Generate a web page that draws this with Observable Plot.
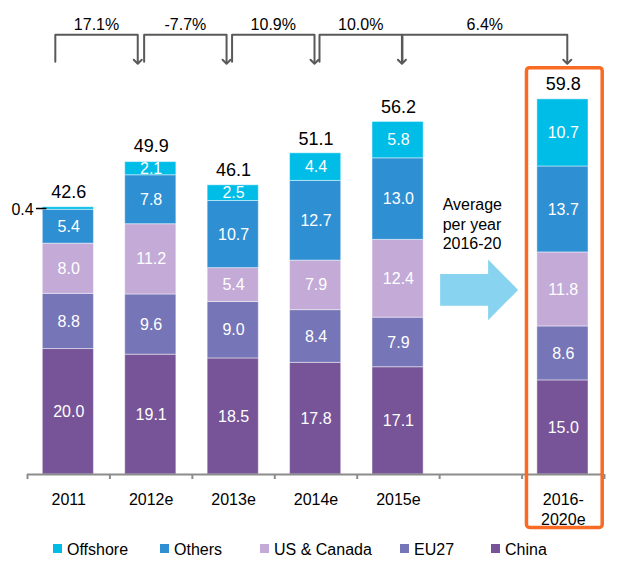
<!DOCTYPE html>
<html>
<head>
<meta charset="utf-8">
<script src="https://cdn.jsdelivr.net/npm/d3@7"></script>
<script src="https://cdn.jsdelivr.net/npm/@observablehq/plot@0.6"></script>
<style>
  body { margin: 0; background: #fff; font-family: "Liberation Sans", Arial, sans-serif; }
  #wrap { position: relative; width: 617px; height: 565px; overflow: hidden; }
  #legend { position: relative; height: 30px; }
  .item { position: absolute; top: 5px; height: 20px; display: flex; align-items: center;
          font-size: 16px; color: #000; white-space: nowrap; }
  .sw { width: 9px; height: 9px; margin-right: 5px; margin-top: -3px; }
</style>
</head>
<body>
<div id="wrap"><div id="chart"></div><div id="legend"></div></div>
<script>
// ---------------- data ----------------
const categories = ["2011", "2012e", "2013e", "2014e", "2015e", "", "2016-2020e"];
const tickLabels = ["2011", "2012e", "2013e", "2014e", "2015e", "", "2016-\n2020e"];
const seriesNames = ["China", "EU27", "US & Canada", "Others", "Offshore"];
const china    = [20.0, 19.1, 18.5, 17.8, 17.1, null, 15.0];
const eu27     = [ 8.8,  9.6,  9.0,  8.4,  7.9, null,  8.6];
const usCanada = [ 8.0, 11.2,  5.4,  7.9, 12.4, null, 11.8];
const others   = [ 5.4,  7.8, 10.7, 12.7, 13.0, null, 13.7];
const offshore = [ 0.4,  2.1,  2.5,  4.4,  5.8, null, 10.7];
const totals   = [42.6, 49.9, 46.1, 51.1, 56.2, null, 59.8];
const growthLabels = ["17.1%", "-7.7%", "10.9%", "10.0%", "6.4%"];
const growthFrom   = ["2011", "2012e", "2013e", "2014e", "2015e"];
const growthTo     = ["2012e", "2013e", "2014e", "2015e", "2016-2020e"];
const arrowText = "Average\nper year\n2016-20";
const arrowCategory = "";
const highlightCategory = "2016-2020e";
const smallLabel = {cat: "2011", value: 0.4, y: 42.4};

// ---------------- styles / layout ----------------
const seriesColors = ["#765497", "#7575b8", "#c3aad7", "#2f8fd3", "#00bde8"];
const legendOrder = ["Offshore", "Others", "US & Canada", "EU27", "China"];
const legendLeft = [53, 160, 260, 400, 491];
const W = 617, H = 535, ML = 27, MR = 13, MB = 61, MT = 97.6;
const step = (W - ML - MR) / categories.length;
const bracketShift = [-13.4, -7, -1.5, 3.5, 4];
const bracketHigh = 70.1, bracketLow = 65.8;

// ---------------- tables ----------------
const seriesValues = [china, eu27, usCanada, others, offshore];
const table = [];
seriesNames.forEach((s, k) => categories.forEach((c, i) => {
  const v = seriesValues[k][i];
  if (v != null) table.push({cat: c, series: s, value: v});
}));
const totalRows = categories.map((c, i) => ({cat: c, total: totals[i]})).filter(d => d.total != null);

const bracketMarks = [];
growthFrom.forEach((f, i) => {
  const t = growthTo[i];
  const pts = [
    {x: f, y: bracketLow}, {x: f, y: bracketHigh},
    {x: t, y: bracketHigh}, {x: t, y: bracketLow}
  ];
  bracketMarks.push(Plot.line(pts, {
    x: "x", y: "y", dx: bracketShift[i], stroke: "#595959", strokeWidth: 2,
    markerEnd: "arrow", curve: "linear"
  }));
  const span = categories.indexOf(t) - categories.indexOf(f);
  bracketMarks.push(Plot.text([growthLabels[i]], {
    x: () => f, y: () => bracketHigh, text: d => d,
    dx: bracketShift[i] + span * step / 2, dy: -10, fontSize: 16, fill: "#000"
  }));
});

function blockArrow(index, scales, values, dimensions, context) {
  const {x, y} = scales;
  const bw = x.bandwidth();
  const x0 = x(arrowCategory);
  const L = x0 + bw * 0.012, B = x0 + bw * 0.594, T = x0 + bw * 0.958;
  const yc = 29.35;
  const s1 = y(yc + 2.55), s2 = y(yc - 2.55), h1 = y(yc + 4.86), h2 = y(yc - 4.86), c = y(yc);
  const doc = (context && context.document) || document;
  const p = doc.createElementNS("http://www.w3.org/2000/svg", "path");
  p.setAttribute("d", `M${L},${s1}H${B}V${h1}L${T},${c}L${B},${h2}V${s2}H${L}Z`);
  p.setAttribute("fill", "#88d3f0");
  return p;
}

const chart = Plot.plot({
  width: W, height: H,
  marginLeft: ML, marginRight: MR, marginTop: MT, marginBottom: MB,
  x: {domain: categories, padding: 0, round: false, axis: null},
  y: {domain: [0, 60], axis: null},
  color: {domain: seriesNames, range: seriesColors},
  style: {fontFamily: '"Liberation Sans", Arial, sans-serif', fontSize: "16px", background: "white", overflow: "visible"},
  marks: [
    Plot.barY(table, {
      x: "cat", y: "value", fill: "series",
      insetLeft: 15.3, insetRight: 16,
      stroke: "#ffffff", strokeOpacity: 0.45, strokeWidth: 1
    }),
    Plot.text(table, Plot.stackY({
      x: "cat", y: "value",
      text: d => d.value >= 1 ? d.value.toFixed(1) : "",
      fill: "white", fontSize: 16
    })),
    Plot.text(totalRows, {x: "cat", y: "total", text: d => d.total.toFixed(1), dy: -15, fontSize: 18, fill: "#000"}),
    // small value label with leader
    Plot.tickY([smallLabel], {x: "cat", y: "y", insetLeft: 9, insetRight: 63, stroke: "#000", strokeWidth: 1.5}),
    Plot.text([smallLabel], {x: "cat", y: "y", text: d => d.value.toFixed(1), dx: -35, dy: 1, textAnchor: "end", fontSize: 16, fill: "#000"}),
    // axis
    Plot.ruleY([0], {stroke: "#8c8c8c", strokeWidth: 2}),
    Plot.ruleX(categories, {x: d => d, y1: 0, y2: -0.8, dx: -step / 2, stroke: "#8c8c8c", strokeWidth: 2}),
    Plot.ruleX([categories[categories.length - 1]], {x: d => d, y1: 0, y2: -0.8, dx: step / 2, stroke: "#8c8c8c", strokeWidth: 2}),
    Plot.text(categories, {
      x: d => d, y: () => 0, text: (d, i) => tickLabels[i],
      dy: 16.3, lineAnchor: "top", lineHeight: 1.25, fontSize: 16, fill: "#000"
    }),
    // growth brackets
    ...bracketMarks,
    // arrow + text
    blockArrow,
    Plot.text([arrowText], {
      x: () => arrowCategory, y: () => 40, text: d => d,
      dx: -step / 2 + 3, textAnchor: "start", lineHeight: 1.22, fontSize: 16, fill: "#000"
    }),
    // highlight box
    Plot.barY([highlightCategory], {
      x: d => d, y1: () => -8.53, y2: () => 64.77,
      insetLeft: 4.9, insetRight: 1.8,
      fill: "none", stroke: "#f96a23", strokeWidth: 3.5, rx: 3
    })
  ]
});
document.getElementById("chart").appendChild(chart);

// legend
const legend = document.getElementById("legend");
legendOrder.forEach((name, i) => {
  const item = document.createElement("div");
  item.className = "item";
  item.style.left = legendLeft[i] + "px";
  const sw = document.createElement("span");
  sw.className = "sw";
  sw.style.background = seriesColors[seriesNames.indexOf(name)];
  const tx = document.createElement("span");
  tx.textContent = name;
  item.appendChild(sw); item.appendChild(tx);
  legend.appendChild(item);
});
</script>
</body>
</html>
